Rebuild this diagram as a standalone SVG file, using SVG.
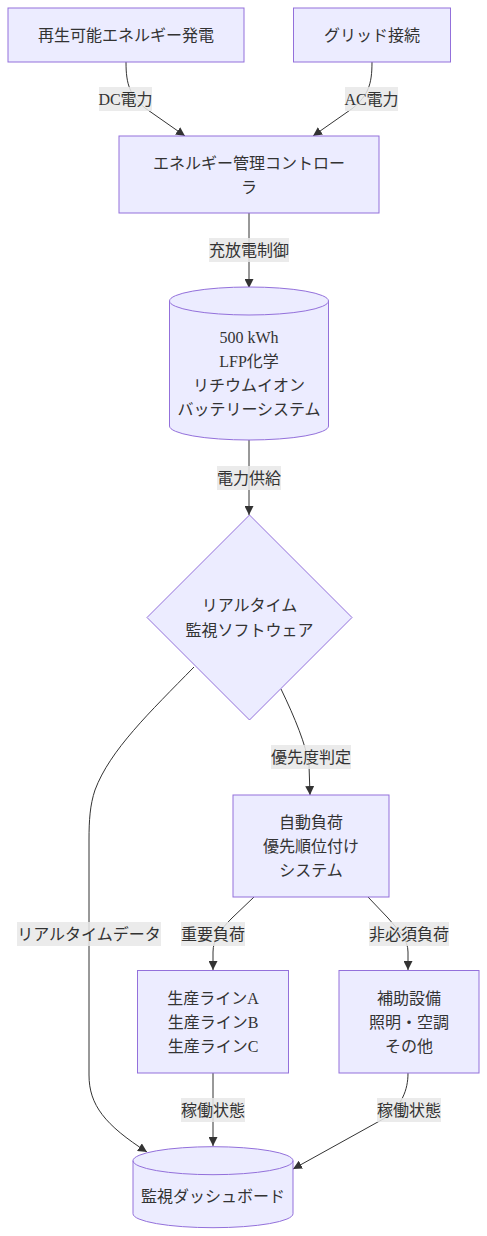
<svg xmlns="http://www.w3.org/2000/svg" width="487" height="1236" viewBox="0 0 487 1236">
<style>
  .node { fill: #ECECFF; stroke: #9370DB; stroke-width: 1; }
  .t { font-family: "Liberation Serif", "Noto Sans CJK JP", serif; font-size: 16px; fill: #333333; text-anchor: middle; dominant-baseline: central; }
  .edge { fill: none; stroke: #333333; stroke-width: 1; marker-end: url(#arr); }
  .lbl { fill: #e8e8e8; opacity: 0.85; }
</style>
<defs>
  <marker id="arr" viewBox="0 0 10 10" refX="10" refY="5" markerUnits="userSpaceOnUse" markerWidth="9" markerHeight="9" orient="auto">
    <path d="M0,0 L10,5 L0,10 z" fill="#333333"/>
  </marker>
</defs>
<rect width="487" height="1236" fill="#ffffff"/>

<g id="edges">
  <path class="edge" d="M126,62 C126,85 130,95 145,108 L185,136"/>
  <path class="edge" d="M372,62 C372,85 368,95 353,108 L313,136"/>
  <path class="edge" d="M249,213 L249,288"/>
  <path class="edge" d="M249,440 L249,515"/>
  <path class="edge" d="M281,689 C295,718 306,745 309,765 L310,795"/>
  <path class="edge" d="M194,667 C150,712 110,750 95,790 C90,805 89,820 89,840 L89,1075 C89,1105 105,1125 147,1152"/>
  <path class="edge" d="M254,897 L232,918 C220,930 213,940 213,952 L213,970"/>
  <path class="edge" d="M368,897 L388,918 C400,932 408,940 408,952 L408,970"/>
  <path class="edge" d="M213,1073 L213,1146"/>
  <path class="edge" d="M408,1073 C408,1090 402,1105 385,1118 L293,1169"/>
</g>

<g id="edge-labels">
  <rect class="lbl" x="99" y="87" width="53" height="24"/><text class="t" x="125.5" y="99">DC電力</text>
  <rect class="lbl" x="345" y="87" width="53" height="24"/><text class="t" x="371.5" y="99">AC電力</text>
  <rect class="lbl" x="209" y="238" width="80" height="24"/><text class="t" x="249" y="250">充放電制御</text>
  <rect class="lbl" x="217" y="466" width="64" height="24"/><text class="t" x="249" y="478">電力供給</text>
  <rect class="lbl" x="271" y="745" width="80" height="24"/><text class="t" x="311" y="757">優先度判定</text>
  <rect class="lbl" x="17" y="922" width="144" height="24"/><text class="t" x="89" y="934">リアルタイムデータ</text>
  <rect class="lbl" x="181" y="922" width="64" height="24"/><text class="t" x="213" y="934">重要負荷</text>
  <rect class="lbl" x="369" y="922" width="80" height="24"/><text class="t" x="409" y="934">非必須負荷</text>
  <rect class="lbl" x="181" y="1098" width="64" height="24"/><text class="t" x="213" y="1110">稼働状態</text>
  <rect class="lbl" x="377" y="1098" width="64" height="24"/><text class="t" x="409" y="1110">稼働状態</text>
</g>

<g id="A">
  <rect class="node" x="8" y="8" width="236" height="54"/>
  <text class="t" x="126" y="35">再生可能エネルギー発電</text>
</g>
<g id="B">
  <rect class="node" x="293.5" y="8" width="157" height="54"/>
  <text class="t" x="372" y="35">グリッド接続</text>
</g>
<g id="C">
  <rect class="node" x="119" y="136" width="260" height="77"/>
  <text class="t" x="249" y="163">エネルギー管理コントロー</text>
  <text class="t" x="249" y="187">ラ</text>
</g>
<g id="D">
  <path class="node" d="M169.5,301 a79.5,14 0 0,0 159,0 a79.5,14 0 0,0 -159,0 l0,125 a79.5,14 0 0,0 159,0 l0,-125"/>
  <text class="t" x="249" y="337">500 kWh</text>
  <text class="t" x="249" y="361">LFP化学</text>
  <text class="t" x="249" y="385">リチウムイオン</text>
  <text class="t" x="249" y="409">バッテリーシステム</text>
</g>
<g id="E">
  <polygon class="node" points="249.5,515 352,617.5 249.5,720 147,617.5"/>
  <text class="t" x="249.5" y="605">リアルタイム</text>
  <text class="t" x="249.5" y="630">監視ソフトウェア</text>
</g>
<g id="F">
  <rect class="node" x="233" y="795" width="156" height="102"/>
  <text class="t" x="311" y="822">自動負荷</text>
  <text class="t" x="311" y="846">優先順位付け</text>
  <text class="t" x="311" y="870">システム</text>
</g>
<g id="G">
  <rect class="node" x="137.5" y="970.5" width="151" height="102.5"/>
  <text class="t" x="213" y="998">生産ラインA</text>
  <text class="t" x="213" y="1022">生産ラインB</text>
  <text class="t" x="213" y="1046">生産ラインC</text>
</g>
<g id="H">
  <rect class="node" x="339" y="970.5" width="140" height="102.5"/>
  <text class="t" x="409" y="998">補助設備</text>
  <text class="t" x="409" y="1022">照明・空調</text>
  <text class="t" x="409" y="1046">その他</text>
</g>
<g id="I">
  <path class="node" d="M133,1160.7 a80,14 0 0,0 160,0 a80,14 0 0,0 -160,0 l0,53 a80,14 0 0,0 160,0 l0,-53"/>
  <text class="t" x="213" y="1196">監視ダッシュボード</text>
</g>
</svg>
